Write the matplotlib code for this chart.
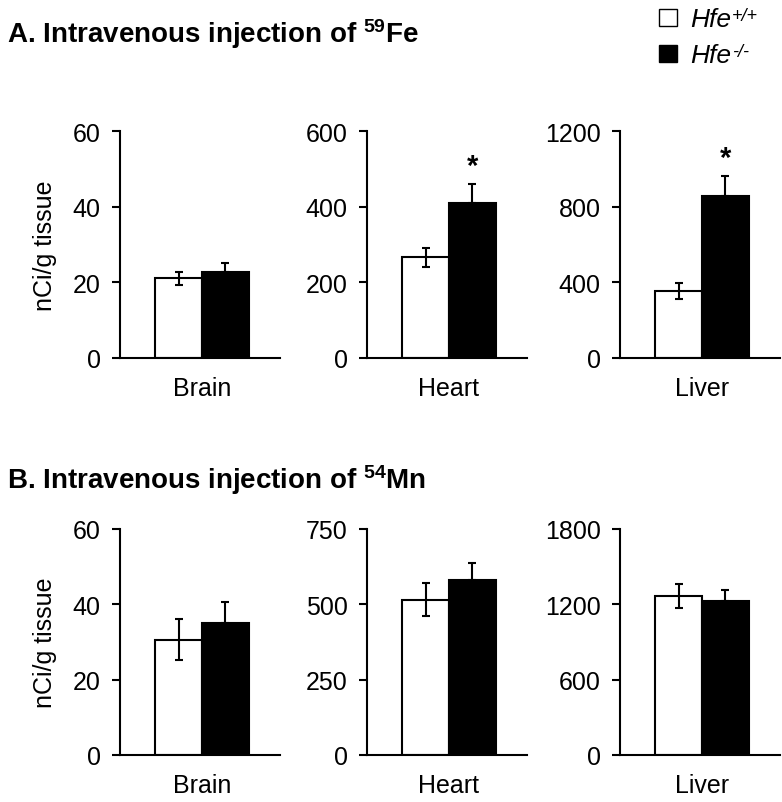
import matplotlib
matplotlib.use("Agg")
import matplotlib.pyplot as plt
from matplotlib.patches import Rectangle
from matplotlib.text import Annotation

plt.rcParams['font.family'] = ['Liberation Sans', 'DejaVu Sans']
plt.rcParams['mathtext.fontset'] = 'custom'
plt.rcParams['mathtext.rm'] = 'Liberation Sans'
plt.rcParams['mathtext.bf'] = 'Liberation Sans:bold'
plt.rcParams['mathtext.it'] = 'Liberation Sans:italic'

# ---------------- data ----------------
tissues = ["Brain", "Heart", "Liver"]
groups = ["Hfe+/+", "Hfe-/-"]

fe_wt = [21.1, 266, 353]
fe_wt_err = [1.7, 25, 42]
fe_ko = [22.6, 410, 855]
fe_ko_err = [2.5, 50, 105]
fe_sig = [False, True, True]

mn_wt = [30.6, 515, 1264]
mn_wt_err = [5.4, 55, 95]
mn_ko = [35.0, 581, 1229]
mn_ko_err = [5.5, 56, 85]
mn_sig = [False, False, False]

fe_ymax = [60, 600, 1200]
fe_ticks = [[0, 20, 40, 60], [0, 200, 400, 600], [0, 400, 800, 1200]]
mn_ymax = [60, 750, 1800]
mn_ticks = [[0, 20, 40, 60], [0, 250, 500, 750], [0, 600, 1200, 1800]]

ylabel = "nCi/g tissue"
title_a = r"A. Intravenous injection of $^{\mathbf{59}}\mathbf{Fe}$"
title_b = r"B. Intravenous injection of $^{\mathbf{54}}\mathbf{Mn}$"

# ---------------- layout ----------------
W, H = 782, 803
fig = plt.figure(figsize=(W / 100, H / 100), dpi=100)

lefts_px = [120, 367, 620]
width_px = 160
rows = [(132, 359), (530, 756)]
LW = 1.5
FS = 18

def make_axes(top, bot):
    axs = []
    for l in lefts_px:
        ax = fig.add_axes([l / W, 1 - bot / H, width_px / W, (bot - top) / H])
        axs.append(ax)
    return axs

def draw_row(axs, wt, wte, ko, koe, sig, ymax, ticks, show_ylabel):
    for i, ax in enumerate(axs):
        ax.bar([0], [wt[i]], width=1.0, color="white", edgecolor="black",
               linewidth=LW, zorder=2)
        ax.bar([1], [ko[i]], width=1.0, color="black", edgecolor="black",
               linewidth=LW, zorder=2)
        ax.errorbar([0], [wt[i]], yerr=[wte[i]], fmt="none", ecolor="black",
                    elinewidth=LW, capsize=3, capthick=LW, zorder=3)
        ax.errorbar([1], [ko[i]], yerr=[[0], [koe[i]]], fmt="none", ecolor="black",
                    elinewidth=LW, capsize=3, capthick=LW, zorder=3)
        if sig[i]:
            ax.annotate("*", xy=(1, ko[i] + koe[i]), xytext=(0, 7.5),
                        textcoords="offset points", ha="center", va="baseline",
                        fontsize=21, fontweight="bold")
        ax.set_xlim(-1.245, 2.16)
        ax.set_ylim(0, ymax[i])
        ax.set_yticks(ticks[i])
        ax.set_yticklabels([str(t) for t in ticks[i]])
        ax.set_xticks([0.5])
        ax.set_xticklabels([tissues[i]])
        for s in ["top", "right"]:
            ax.spines[s].set_visible(False)
        for s in ["left", "bottom"]:
            ax.spines[s].set_linewidth(LW)
        ax.tick_params(axis="y", direction="out", length=6, width=LW,
                       labelsize=FS, pad=8)
        ax.tick_params(axis="x", length=0, labelsize=FS, pad=13)
        ax.set_facecolor("none")
        if show_ylabel and i == 0:
            ax.set_ylabel(ylabel, fontsize=FS, labelpad=11)

axA = make_axes(*rows[0])
draw_row(axA, fe_wt, fe_wt_err, fe_ko, fe_ko_err, fe_sig, fe_ymax, fe_ticks, True)
axB = make_axes(*rows[1])
draw_row(axB, mn_wt, mn_wt_err, mn_ko, mn_ko_err, mn_sig, mn_ymax, mn_ticks, True)

# titles
fig.text(7 / W, 1 - 43 / H, title_a, fontsize=20, fontweight="bold",
         ha="left", va="baseline")
fig.text(7 / W, 1 - 489 / H, title_b, fontsize=20, fontweight="bold",
         ha="left", va="baseline")

# legend (manual)
leg_items = [("white", "+/+", 10), ("black", "-/-", 46)]
for color, sup, ytop in leg_items:
    fig.patches.append(Rectangle((659 / W, 1 - (ytop + 17) / H), 18 / W, 17 / H,
                                 transform=fig.transFigure, facecolor=color,
                                 edgecolor="black", linewidth=1.0))
    t = fig.text(690 / W, 1 - (ytop + 17) / H, "Hfe", fontsize=19,
                 fontstyle="italic", ha="left", va="baseline")
    ann = Annotation(sup, xy=(1, 1), xycoords=t, xytext=(0.5, 0),
                     textcoords="offset points", ha="left", va="top",
                     fontsize=13, fontstyle="italic", annotation_clip=False)
    fig.add_artist(ann)

fig.savefig("out.png", dpi=100)
